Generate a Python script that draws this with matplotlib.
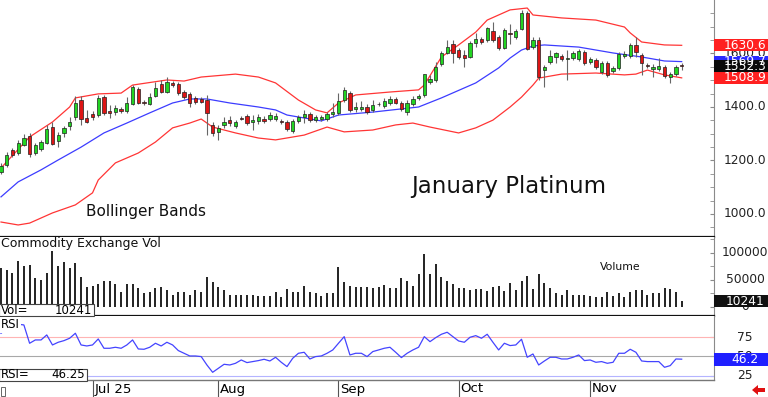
import matplotlib
matplotlib.use("Agg")
import matplotlib.pyplot as plt
from matplotlib.patches import Rectangle, Polygon
from matplotlib.transforms import blended_transform_factory

W, H = 768, 397

# daily OHLC, January platinum (bar 0 = early June, last bar = Nov 25)
opens = [1157, 1183, 1239, 1228, 1258, 1292, 1228, 1243, 1265, 1325,
         1273, 1303, 1329, 1363, 1426, 1359, 1374, 1370, 1437, 1385,
         1381, 1393, 1385, 1411, 1467, 1419, 1411, 1441, 1486, 1456,
         1490, 1486, 1456, 1449, 1434, 1430, 1426, 1333, 1307, 1333,
         1351, 1329, 1359, 1366, 1344, 1348, 1355, 1355, 1355, 1348,
         1344, 1310, 1348, 1363, 1374, 1351, 1355, 1355, 1374, 1378,
         1426, 1452, 1393, 1393, 1400, 1389, 1410, 1404, 1415, 1430,
         1415, 1381, 1411, 1434, 1445, 1493, 1501, 1561, 1602, 1636,
         1613, 1594, 1587, 1639, 1654, 1650, 1684, 1662, 1621, 1677,
         1662, 1692, 1751, 1624, 1650, 1538, 1568, 1587, 1591, 1581,
         1583, 1579, 1606, 1568, 1576, 1531, 1565, 1535, 1546, 1591,
         1591, 1632, 1594, 1557, 1542, 1542, 1550, 1512, 1523, 1558]
closes = [1179, 1221, 1221, 1265, 1284, 1224, 1258, 1269, 1318, 1262,
          1295, 1322, 1344, 1415, 1355, 1344, 1363, 1434, 1378, 1378,
          1396, 1385, 1415, 1475, 1415, 1415, 1437, 1471, 1456, 1493,
          1482, 1452, 1437, 1415, 1419, 1419, 1378, 1303, 1322, 1344,
          1340, 1344, 1355, 1340, 1351, 1363, 1348, 1370, 1366, 1344,
          1318, 1348, 1363, 1374, 1351, 1363, 1363, 1374, 1381, 1422,
          1464, 1389, 1400, 1400, 1381, 1408, 1412, 1422, 1430, 1415,
          1393, 1415, 1430, 1441, 1523, 1505, 1550, 1602, 1624, 1602,
          1587, 1583, 1639, 1654, 1643, 1695, 1650, 1621, 1688, 1673,
          1684, 1751, 1617, 1650, 1512, 1550, 1591, 1602, 1579, 1583,
          1602, 1609, 1565, 1579, 1550, 1565, 1520, 1546, 1598, 1598,
          1632, 1606, 1565, 1553, 1550, 1553, 1516, 1523, 1550, 1552.3]
highs = [1190, 1232, 1247, 1277, 1299, 1303, 1265, 1277, 1333, 1344,
         1307, 1329, 1363, 1441, 1441, 1389, 1385, 1445, 1445, 1408,
         1408, 1400, 1437, 1482, 1475, 1426, 1452, 1493, 1501, 1512,
         1497, 1493, 1464, 1456, 1441, 1437, 1445, 1344, 1333, 1363,
         1366, 1351, 1366, 1374, 1370, 1374, 1366, 1381, 1378, 1355,
         1351, 1355, 1370, 1389, 1381, 1370, 1370, 1381, 1415, 1452,
         1475, 1460, 1419, 1422, 1411, 1426, 1419, 1434, 1441, 1437,
         1422, 1426, 1441, 1449, 1525, 1520, 1568, 1609, 1650, 1650,
         1621, 1613, 1647, 1677, 1662, 1699, 1718, 1669, 1695, 1710,
         1692, 1763, 1759, 1662, 1662, 1557, 1613, 1606, 1598, 1613,
         1609, 1617, 1613, 1587, 1583, 1572, 1572, 1553, 1606, 1609,
         1639, 1662, 1602, 1565, 1561, 1583, 1557, 1531, 1557, 1565]
lows = [1150, 1176, 1213, 1221, 1254, 1213, 1221, 1236, 1262, 1258,
        1250, 1288, 1314, 1351, 1333, 1340, 1351, 1363, 1370, 1359,
        1370, 1378, 1378, 1408, 1411, 1408, 1408, 1437, 1452, 1452,
        1475, 1445, 1430, 1400, 1411, 1415, 1295, 1292, 1277, 1322,
        1329, 1322, 1351, 1333, 1314, 1337, 1340, 1348, 1348, 1337,
        1310, 1303, 1340, 1340, 1344, 1344, 1348, 1348, 1363, 1370,
        1419, 1381, 1381, 1385, 1374, 1381, 1404, 1396, 1408, 1411,
        1385, 1370, 1404, 1426, 1437, 1486, 1493, 1553, 1598, 1565,
        1579, 1550, 1583, 1624, 1636, 1643, 1643, 1613, 1617, 1636,
        1654, 1688, 1613, 1617, 1501, 1475, 1561, 1565, 1572, 1501,
        1576, 1572, 1557, 1561, 1542, 1523, 1512, 1527, 1538, 1583,
        1583, 1587, 1520, 1546, 1512, 1535, 1508, 1490, 1516, 1538]

# Bollinger bands (bar index, price)
upper_idx = [0, 5, 9, 12, 13, 17, 21, 23, 29, 32, 35, 41, 45, 48, 52, 55, 57, 59,
             62, 68, 73, 74, 77, 80, 83, 85, 89, 92, 93, 98, 104, 109, 110, 112, 116, 119]
upper_val = [1172, 1288, 1344, 1400, 1434, 1449, 1452, 1482, 1501, 1497, 1512, 1523,
             1512, 1490, 1426, 1389, 1378, 1415, 1445, 1456, 1464, 1482, 1587, 1632,
             1680, 1725, 1763, 1770, 1744, 1733, 1725, 1699, 1677, 1643, 1632, 1630.6]
mid_idx = [0, 3, 7, 10, 14, 18, 22, 26, 30, 33, 36, 40, 45, 48, 50, 56, 59, 65, 73,
           77, 83, 87, 89, 91, 93, 95, 101, 107, 112, 116, 119]
mid_val = [1064, 1120, 1165, 1202, 1250, 1303, 1340, 1378, 1415, 1430, 1430, 1415,
           1400, 1389, 1370, 1348, 1370, 1381, 1400, 1434, 1490, 1546, 1583, 1613,
           1628, 1632, 1624, 1602, 1587, 1572, 1569.7]
lower_idx = [0, 3, 5, 9, 13, 16, 17, 20, 24, 27, 30, 33, 35, 37, 41, 45, 48, 53, 57,
             60, 65, 69, 72, 75, 80, 83, 86, 89, 91, 93, 94, 98, 104, 109, 111, 113, 116, 119]
lower_val = [970, 959, 966, 1004, 1034, 1079, 1127, 1191, 1228, 1269, 1322, 1340,
             1355, 1325, 1303, 1284, 1277, 1295, 1325, 1307, 1314, 1333, 1340, 1325,
             1303, 1322, 1351, 1400, 1437, 1482, 1508, 1523, 1527, 1520, 1523, 1538,
             1520, 1508.9]

volume = [71900, 68750, 62500, 84400, 75000, 78100, 53100, 50000, 62500, 104400,
          75000, 83100, 71900, 81250, 56250, 37500, 39400, 41900, 48100, 48100,
          41900, 28100, 41900, 41900, 34400, 25000, 28100, 34400, 37500, 31250,
          23100, 28100, 28100, 23100, 31250, 28100, 56250, 46900, 37500, 31250,
          23100, 23100, 23100, 23100, 23100, 20600, 20600, 20600, 26900, 18750,
          33100, 26900, 26900, 39400, 28100, 25000, 20600, 25000, 25000, 73750,
          45600, 39400, 37500, 37500, 37500, 35600, 37500, 40600, 34400, 35600,
          54400, 48100, 39400, 60600, 98100, 60600, 79400, 56250, 48100, 41900,
          34400, 34400, 31250, 33100, 33100, 29400, 36250, 38750, 29400, 43750,
          31250, 48100, 57500, 33100, 60600, 43750, 35600, 25000, 21900, 31250,
          23100, 23100, 21900, 20000, 18750, 18750, 26900, 20600, 25000, 18750,
          26900, 31250, 31250, 21900, 25000, 25000, 35600, 33100, 28100, 10241]

rsi = [79.9, 85.5, 89.8, 91.6, 90.7, 66.9, 71.2, 71.2, 77.7, 64.7,
       68.2, 70.3, 73.4, 79.9, 64.7, 63.4, 64.7, 72.5, 60.4, 60.4,
       61.7, 60.4, 64.7, 71.2, 59.5, 59.1, 61.7, 66.9, 63.4, 68.2,
       64.7, 57.4, 53.9, 50.4, 50.4, 49.6, 38.7, 29.2, 34.4, 39.6,
       38.7, 40.9, 45.2, 41.8, 43.1, 44.4, 46.1, 43.9, 48.7, 42.2,
       36.6, 47.4, 53.9, 55.2, 46.5, 49.6, 50.4, 53.9, 58.2, 66.9,
       75.5, 51.7, 53.9, 53.9, 49.6, 56.1, 58.2, 60.4, 61.7, 55.2,
       48.3, 53.9, 58.2, 61.7, 75.5, 69.0, 74.2, 78.6, 81.2, 75.5,
       69.9, 68.2, 74.7, 76.8, 73.4, 78.6, 68.2, 58.2, 66.9, 63.9,
       64.7, 72.1, 48.7, 53.0, 38.7, 43.9, 48.7, 48.7, 46.5, 46.5,
       48.7, 51.7, 44.4, 45.2, 42.2, 43.1, 40.9, 42.2, 53.9, 53.9,
       59.1, 55.2, 43.9, 43.1, 43.1, 43.1, 35.7, 37.9, 46.5, 46.25]

month_idx = [16, 38, 59, 80, 103]
month_lbl = ["Jul 25", "Aug", "Sep", "Oct", "Nov"]

price_ticks = [1000, 1200, 1400, 1600]
vol_ticks = [0, 50000, 100000]
rsi_ticks = [25, 50, 75]

GREEN, RED = "#22d422", "#dd1515"
BAND_RED, BAND_BLUE = "#ff3535", "#3c3cff"


def box(x0, y0, x1, y1):
    return [x0 / W, 1 - y1 / H, (x1 - x0) / W, (y1 - y0) / H]


def fx(px):
    return px / W


def fy(py):
    return 1 - py / H


def style_panel(ax, bottom_color, bottom_lw):
    ax.spines["top"].set_visible(False)
    ax.spines["left"].set_visible(False)
    ax.spines["right"].set_color("#8a8a8a")
    ax.spines["bottom"].set_color(bottom_color)
    ax.spines["bottom"].set_linewidth(bottom_lw)
    ax.set_xticks([])
    ax.yaxis.set_ticks_position("right")
    ax.tick_params(axis="y", which="both", direction="in", length=3,
                   color="#8a8a8a", labelright=False)
    ax.set_xlim(-0.175, 124.65)


def right_labels(ax, ticks, fmt):
    trans = blended_transform_factory(ax.transAxes, ax.transData)
    for t in ticks:
        ax.text(745 / 714, t, fmt(t), transform=trans, ha="center", va="center",
                fontsize=8.8, color="#222222", clip_on=False, zorder=4)


def tag(ax, value, text, face, h_px):
    trans = blended_transform_factory(ax.transAxes, ax.transData)
    y0, y1 = ax.get_ylim()
    h = h_px * (y1 - y0) / (ax.get_position().height * H)
    ax.add_patch(Rectangle((1.0, value - h / 2), 54 / 714, h, transform=trans,
                           facecolor=face, edgecolor="none", clip_on=False, zorder=5))
    ax.text(745 / 714, value, text, transform=trans, ha="center", va="center",
            fontsize=8.8, color="white", clip_on=False, zorder=6)


fig = plt.figure(figsize=(W / 100, H / 100), dpi=100)
ax_p = fig.add_axes(box(0, 0, 714, 237))
ax_v = fig.add_axes(box(0, 237, 714, 316))
ax_r = fig.add_axes(box(0, 316, 714, 380))

x = list(range(len(closes)))

# price panel
style_panel(ax_p, "#111111", 1.6)
ax_p.set_ylim(914, 1800)
ax_p.set_yticks(price_ticks)
ax_p.set_yticks(range(950, 1800, 50), minor=True)
ax_p.vlines(x, lows, highs, color="#666666", lw=0.8, zorder=2)
body_bottom = [min(o, c) for o, c in zip(opens, closes)]
body_height = [max(abs(c - o), 3) for o, c in zip(opens, closes)]
body_color = [GREEN if c >= o else RED for o, c in zip(opens, closes)]
ax_p.bar(x, body_height, bottom=body_bottom, width=0.58, color=body_color,
         edgecolor="#202020", linewidth=0.5, zorder=3)
ax_p.plot(upper_idx, upper_val, color=BAND_RED, lw=0.9, zorder=1)
ax_p.plot(lower_idx, lower_val, color=BAND_RED, lw=0.9, zorder=1)
ax_p.plot(mid_idx, mid_val, color=BAND_BLUE, lw=0.9, zorder=1)
right_labels(ax_p, price_ticks, lambda t: f"{t:.1f}")
tag(ax_p, mid_val[-1], f"{mid_val[-1]:.1f}", "#2a2aff", 12)
tag(ax_p, closes[-1], f"{closes[-1]:.1f}", "#0a0a0a", 12)
tag(ax_p, upper_val[-1], f"{upper_val[-1]:.1f}", "#ff2020", 12)
tag(ax_p, lower_val[-1], f"{lower_val[-1]:.1f}", "#ff2020", 12)
fig.text(fx(411), fy(186), "January Platinum", fontsize=16.5, va="center", color="#111111")
fig.text(fx(86), fy(212), "Bollinger Bands", fontsize=11, va="center", color="#111111")

# volume panel
style_panel(ax_v, "#111111", 1.6)
ax_v.set_ylim(-16700, 129600)
ax_v.set_yticks(vol_ticks)
ax_v.set_yticks(range(0, 130000, 25000), minor=True)
ax_v.vlines(x, 0, volume, color="#222222", lw=1.4)
right_labels(ax_v, vol_ticks, lambda t: f"{t}")
tag(ax_v, volume[-1], f"{volume[-1]}", "#111111", 12)
fig.text(fx(1), fy(244), "Commodity Exchange Vol", fontsize=9, va="center", color="#111111")
fig.text(fx(600), fy(267), "Volume", fontsize=7.8, va="center", color="#111111")
fig.add_artist(Rectangle((fx(-1), fy(316)), fx(95), 12 / H, transform=fig.transFigure,
                         facecolor="white", edgecolor="#444444", lw=0.8, zorder=5))
fig.text(fx(1), fy(310), "Vol=", fontsize=8.5, va="center", zorder=6)
fig.text(fx(92), fy(310), f"{volume[-1]}", fontsize=8.5, va="center", ha="right", zorder=6)

# RSI panel
style_panel(ax_r, "#777777", 1.0)
ax_r.set_ylim(19.2, 102.3)
ax_r.set_yticks(rsi_ticks)
ax_r.axhline(75, color="#ffb4b4", lw=0.8)
ax_r.axhline(50, color="#a8a8a8", lw=0.8)
ax_r.axhline(25, color="#b4b4ff", lw=0.8)
ax_r.plot(x, rsi, color="#4444ff", lw=0.9)
right_labels(ax_r, rsi_ticks, lambda t: f"{t}")
tag(ax_r, rsi[-1], f"{rsi[-1]:.1f}", "#1f1fff", 13)
fig.text(fx(1), fy(325), "RSI", fontsize=8.5, va="center", zorder=6,
         bbox=dict(facecolor="white", edgecolor="none", pad=1))
fig.add_artist(Rectangle((fx(-1), fy(381)), fx(88), 12 / H, transform=fig.transFigure,
                         facecolor="white", edgecolor="#444444", lw=0.8, zorder=5))
fig.text(fx(1), fy(375), "RSI=", fontsize=8.5, va="center", zorder=6)
fig.text(fx(85), fy(375), f"{rsi[-1]:.2f}", fontsize=8.5, va="center", ha="right", zorder=6)

# date axis strip
date_trans = blended_transform_factory(ax_r.transData, fig.transFigure)
for i, lbl in zip(month_idx, month_lbl):
    ax_r.plot([i, i], [fy(381), fy(397)], transform=date_trans, color="#555555",
              lw=0.8, clip_on=False)
    ax_r.text(i + 0.35, fy(389), lbl, transform=date_trans, fontsize=9.5,
              va="center", ha="left", clip_on=False)

fig.add_artist(Rectangle((fx(0.5), fy(396)), fx(4.5), 9 / H, transform=fig.transFigure,
                         facecolor="none", edgecolor="#666666", lw=0.7))
arrow = [(752, 390), (758, 385), (758, 388), (765, 388), (765, 392), (758, 392), (758, 395)]
fig.add_artist(Polygon([(fx(a), fy(b)) for a, b in arrow], closed=True,
                       transform=fig.transFigure, facecolor="#e01010", edgecolor="none"))

fig.savefig("out.png", dpi=100)
